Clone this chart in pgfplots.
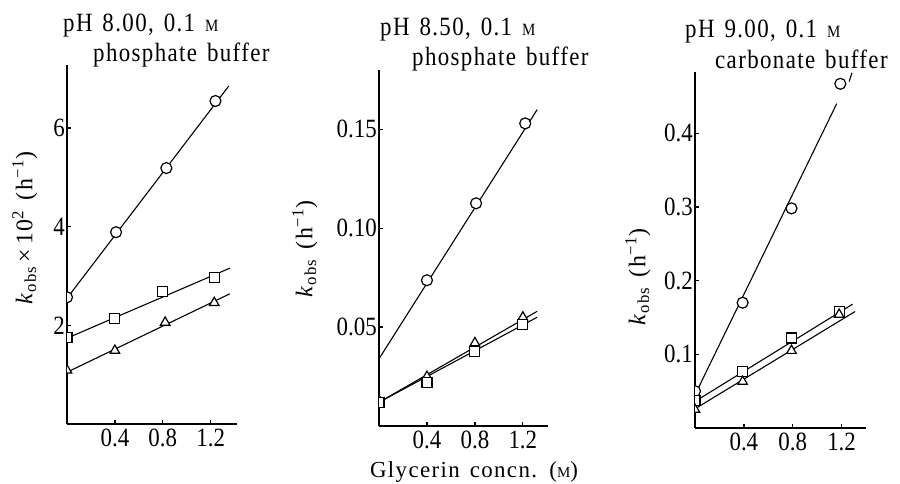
\documentclass[border=0pt]{standalone}
\usepackage{graphicx}
\usepackage{pgfplots}
\pgfplotsset{compat=1.18}
\usepackage{fontspec}
\setmainfont{Liberation Serif}
\newfontfamily\spaced[LetterSpace=6,WordSpace=1.4]{Liberation Serif}
\newcommand{\smM}{{\fontsize{15}{15}\selectfont M}}
\newcommand{\tl}[1]{\scalebox{1}[1.15]{#1}}
\pgfplotsset{
  panel/.style={
    scale only axis, axis lines=left, axis line style={-, line width=1.6bp},
    xmin=0, ymin=0, clip marker paths=true,
    tick align=inside, major tick length=4bp,
    every tick/.style={black, line width=1.3bp},
    xtick={0.4,0.8,1.2}, xticklabels={\tl{0.4},\tl{0.8},\tl{1.2}},
    tick label style={font=\fontsize{23}{23}\selectfont},
    /pgf/number format/assume math mode=true,
    yticklabel style={inner xsep=2bp},
    xticklabel style={inner ysep=5bp},
  },
  fit/.style={black, line width=1.1bp, no marks},
  circ/.style={only marks, mark=*, mark size=5.5bp, mark options={fill=white, draw=black, line width=1.2bp}},
  sq/.style={only marks, mark=square*, mark size=5bp, mark options={fill=white, draw=black, line width=1.2bp}},
  tri/.style={only marks, mark=triangle*, mark size=5.5bp, mark options={fill=white, draw=black, line width=1.2bp}},
}
\begin{document}
\begin{tikzpicture}
\path[use as bounding box] (0,0) rectangle (900bp,-484bp);
% ---------- panel 1 ----------
\begin{axis}[panel, at={(67bp,-424bp)}, anchor=south west,
  width=170bp, height=359bp, xmax=1.42, ymax=7.28,
  ytick={2,4,6}, yticklabels={\tl{2},\tl{4},\tl{6}}]
\addplot[fit] coordinates {(0,2.55) (1.35,6.85)};
\addplot[fit] coordinates {(0,1.74) (1.36,3.16)};
\addplot[fit] coordinates {(0,1.05) (1.36,2.64)};
\addplot[circ] coordinates {(0,2.57) (0.41,3.89) (0.83,5.19) (1.24,6.55)};
\addplot[sq] coordinates {(0,1.76) (0.40,2.14) (0.80,2.68) (1.23,2.97)};
\addplot[tri] coordinates {(0,1.09) (0.40,1.49) (0.82,2.06) (1.23,2.46)};
\end{axis}
% ---------- panel 2 ----------
\begin{axis}[panel, at={(379bp,-426bp)}, anchor=south west,
  width=169bp, height=356bp, xmax=1.41, ymax=0.18,
  ytick={0.05,0.10,0.15}, yticklabels={\tl{0.05},\tl{0.10},\tl{0.15}}]
\addplot[fit] coordinates {(0,0.034) (1.32,0.160)};
\addplot[fit] coordinates {(0,0.012) (1.32,0.058)};
\addplot[fit] coordinates {(0,0.012) (1.32,0.055)};
\addplot[circ] coordinates {(0.40,0.0737) (0.81,0.1126) (1.22,0.153)};
\addplot[tri] coordinates {(0,0.013) (0.40,0.025) (0.80,0.042) (1.20,0.055)};
\addplot[sq] coordinates {(0,0.012) (0.40,0.022) (0.80,0.0375) (1.20,0.0515)};
\end{axis}
% ---------- panel 3 ----------
\begin{axis}[panel, at={(695bp,-428bp)}, anchor=south west,
  width=171bp, height=356bp, xmax=1.40, ymax=0.483,
  ytick={0.1,0.2,0.3,0.4}, yticklabels={\tl{0.1},\tl{0.2},\tl{0.3},\tl{0.4}}]
\addplot[fit] coordinates {(0,0.045) (1.16,0.44)};
\addplot[fit] coordinates {(1.262,0.470) (1.285,0.482)};
\addplot[fit] coordinates {(0,0.036) (1.29,0.168)};
\addplot[fit] coordinates {(0,0.026) (1.31,0.158)};
\addplot[circ] coordinates {(0,0.050) (0.39,0.170) (0.79,0.298) (1.19,0.467)};
\addplot[sq] coordinates {(0,0.037) (0.39,0.077) (0.79,0.122) (1.18,0.158)};
\addplot[tri] coordinates {(0,0.025) (0.39,0.063) (0.79,0.105) (1.18,0.154)};
\end{axis}
% ---------- titles ----------
\begin{scope}[every node/.style={inner sep=0pt, anchor=base west, font=\spaced\fontsize{23}{23}\selectfont}]
\node at (63bp,-32bp) {\tl{pH 8.00, 0.1 \smM}};
\node at (93bp,-61bp) {\tl{phosphate buffer}};
\node at (380bp,-36bp) {\tl{pH 8.50, 0.1 \smM}};
\node at (412bp,-65bp) {\tl{phosphate buffer}};
\node at (685bp,-38bp) {\tl{pH 9.00, 0.1 \smM}};
\node at (715bp,-68bp) {\tl{carbonate buffer}};
\end{scope}
% ---------- axis labels ----------
\begin{scope}[every node/.style={inner sep=0pt, rotate=90, anchor=center, font=\spaced\fontsize{24}{24}\selectfont}]
\node at (25bp,-228bp) {\textit{k}\textsubscript{obs}\,×\,10\textsuperscript{2} (h\textsuperscript{−1})};
\node at (305bp,-249bp) {\textit{k}\textsubscript{obs} (h\textsuperscript{−1})};
\node at (638bp,-277bp) {\textit{k}\textsubscript{obs} (h\textsuperscript{−1})};
\end{scope}
\node[inner sep=0pt, anchor=base, font=\spaced\fontsize{23}{23}\selectfont] at (474bp,-477bp) {Glycerin concn. (\smM)};
\end{tikzpicture}
\end{document}
